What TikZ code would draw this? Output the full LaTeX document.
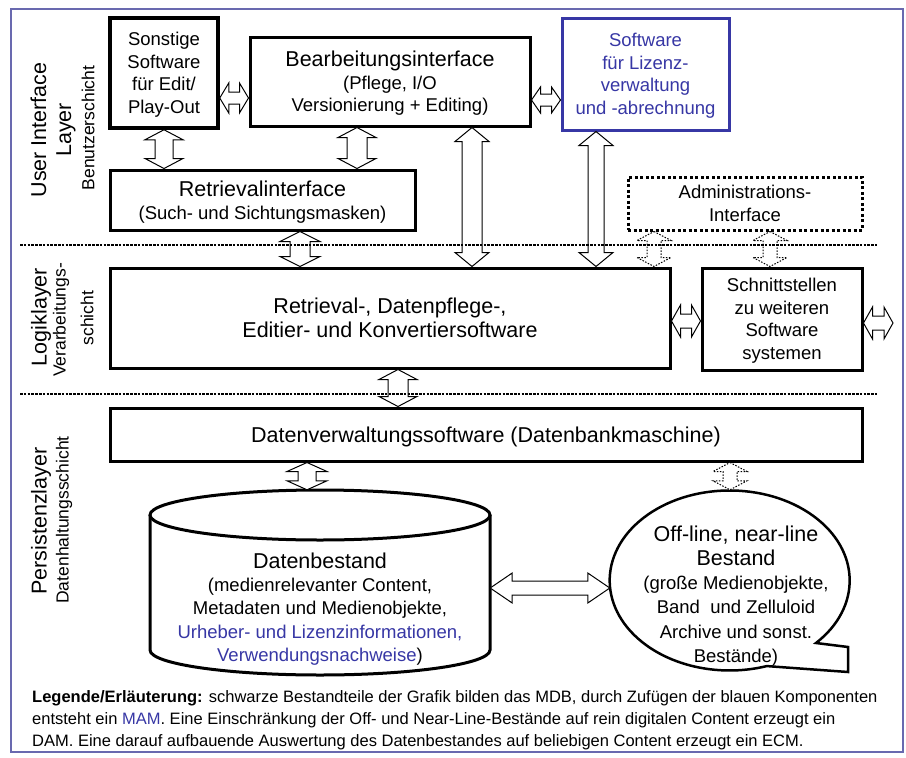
\documentclass[tikz,border=0pt]{standalone}
\usepackage{fontspec}
\setmainfont{Liberation Sans}
\usetikzlibrary{calc}
\definecolor{mblue}{RGB}{55,55,165}
\definecolor{framec}{RGB}{105,105,175}
\newcommand\fsT{\fontsize{21.5}{24}\selectfont}
\newcommand\fsS{\fontsize{18.5}{22.5}\selectfont}
\newcommand\fsSm{\fontsize{17.5}{21}\selectfont}
\newcommand\fsL{\fontsize{16.5}{22}\selectfont}
\newcommand\dblarr[6][]{%
  \coordinate (bs) at (#2);
  \coordinate (bt) at (#3);
  \coordinate (ba1) at ($(bs)!#4!(bt)$);
  \coordinate (ba2) at ($(bt)!#4!(bs)$);
  \draw[arrline,#1] (bs) -- ($(ba1)!#5!90:(bt)$) -- ($(ba1)!#6!90:(bt)$)
    -- ($(ba2)!#6!-90:(bs)$) -- ($(ba2)!#5!-90:(bs)$) -- (bt)
    -- ($(ba2)!#5!90:(bs)$) -- ($(ba2)!#6!90:(bs)$)
    -- ($(ba1)!#6!-90:(bt)$) -- ($(ba1)!#5!-90:(bt)$) -- cycle;
}
\tikzset{
  box/.style={draw=black, line width=3pt, fill=white, align=center, inner sep=0pt, text=black, text depth=-4pt},
  bluebox/.style={box, draw=mblue, text=mblue},
  dotbox/.style={box, dash pattern=on 3pt off 2.5pt},
  ghost/.style={draw=none, inner sep=0pt},
  lab/.style={inner sep=0pt, rotate=90, align=center},
  arrline/.style={draw=black, fill=white, line width=1pt, line join=miter},
  dotarr/.style={dash pattern=on 1.5pt off 1.5pt},
  sepline/.style={line width=2.5pt, dash pattern=on 2.5pt off 1.3pt},
  legend/.style={anchor=base west, inner sep=0pt, font=\fsL}
}
\begin{document}
\begin{tikzpicture}[x=1pt, y=-1pt]
\fill[white] (0,0) rectangle (906,758);
\useasboundingbox (0,0) rectangle (906,758);
\draw[framec, line width=1.5pt] (11,9) rectangle (903,752);

% layer labels
\node[lab, font=\fsT] (uil) at (53,130) {User Interface\\[1pt]Layer};
\node[lab, font=\fsSm] (uis) at (88,128) {Benutzerschicht};
\node[lab, font=\fsT] (lgl) at (41,317) {Logiklayer};
\node[lab, font=\fsSm] (lgs1) at (61,320) {Verarbeitungs-};
\node[lab, font=\fsSm] (lgs2) at (87,318) {schicht};
\node[lab, font=\fsT] (psl) at (41,521) {Persistenzlayer};
\node[lab, font=\fsSm] (pss) at (64,520) {Datenhaltungsschicht};

% user interface layer
\node[box, line width=3.5pt, font=\fsS, minimum width=108pt, minimum height=110pt] (son) at (164,73)
  {Sonstige\\Software\\für Edit/\\Play-Out};
\node[box, font=\fsS, minimum width=280pt, minimum height=89pt] (bearb) at (390,81.5)
  {{\fsT Bearbeitungsinterface}\\(Pflege, I/O\\Versionierung + Editing)};
\node[bluebox, font=\fsS, minimum width=167pt, minimum height=112pt] (liz) at (645.5,74)
  {Software\\für Lizenz-\\verwaltung\\und -abrechnung};
\node[box, font=\fsS, minimum width=305pt, minimum height=60pt] (ret) at (262.5,200)
  {{\fsT Retrievalinterface}\\(Such- und Sichtungsmasken)};
\node[dotbox, font=\fsS, minimum width=234pt, minimum height=53pt] (adm) at (745,203.5)
  {Administrations-\\Interface};

% logic layer
\node[box, font=\fsT, minimum width=560pt, minimum height=100pt] (logic) at (390,318)
  {Retrieval-, Datenpflege-,\\Editier- und Konvertiersoftware};
\node[box, font=\fsS, minimum width=160pt, minimum height=102pt] (schn) at (782,319)
  {Schnittstellen\\zu weiteren\\Software\\systemen};

% persistence layer
\node[box, font=\fsT, minimum width=752pt, minimum height=53pt] (dv) at (486,434.5)
  {Datenverwaltungssoftware (Datenbankmaschine)};

% cylinder
\draw[line width=3pt, fill=white] (150,515) -- (150,650)
  arc[start angle=180, end angle=0, x radius=170, y radius=25] -- (490,515);
\draw[line width=3pt, fill=white] (320,515) ellipse [x radius=170, y radius=25];
\node[ghost, minimum width=340pt, minimum height=185pt] (db) at (320,582.5) {};
\node[inner sep=0pt, align=center, font=\fontsize{18.5}{23.3}\selectfont] (dbt) at (320,609)
  {{\fsT Datenbestand}\\(medienrelevanter Content,\\Metadaten und Medienobjekte,\\
   \textcolor{mblue}{Urheber- und Lizenzinformationen,}\\
   \textcolor{mblue}{Verwendungsnachweise})};

% callout ellipse
\draw[line width=2.5pt, fill=white] (816,643)
  arc[start angle=44, end angle=-288, x radius=120, y radius=90]
  -- (848,672) -- (848,647) -- cycle;
\node[ghost, minimum width=240pt, minimum height=180pt] (off) at (730,580) {};
\node[inner sep=0pt, align=center, font=\fontsize{18.5}{24.2}\selectfont] (offt) at (736,596)
  {{\fsT Off-line, near-line}\\{\fsT Bestand}\\(große Medienobjekte,\\Band\ \ und Zelluloid\\Archive und sonst.\\Bestände)};

% connectors
\dblarr{son.south}{son.south |- ret.north}{10pt}{19pt}{9pt}
\dblarr{bearb.south -| 357,0}{ret.north -| 357,0}{10pt}{19pt}{10pt}
\dblarr{ret.south -| 300,0}{logic.north -| 300,0}{10pt}{20pt}{10pt}
\dblarr{bearb.south -| 472,0}{logic.north -| 472,0}{14pt}{17pt}{10pt}
\dblarr{liz.south -| 596,0}{logic.north -| 596,0}{14pt}{17pt}{8pt}
\dblarr[dotarr]{adm.south -| 654,0}{logic.north -| 654,0}{9pt}{17pt}{7pt}
\dblarr[dotarr]{adm.south -| 770,0}{schn.north -| 770,0}{9pt}{17pt}{7pt}
\dblarr{son.east |- 0,98}{bearb.west |- 0,98}{9pt}{15pt}{6pt}
\dblarr{bearb.east |- 0,100}{liz.west |- 0,100}{9pt}{13pt}{6pt}
\dblarr{logic.east |- 0,321}{schn.west |- 0,321}{9pt}{16pt}{7pt}
\coordinate (ext) at (893,323);
\dblarr{schn.east |- 0,323}{ext}{9pt}{16pt}{7pt}
\dblarr{logic.south -| 398,0}{dv.north -| 398,0}{10pt}{19pt}{10pt}
\dblarr{dv.south -| 307,0}{db.north -| 307,0}{9pt}{20pt}{9pt}
\dblarr[dotarr]{dv.south -| 730,0}{off.north -| 730,0}{9pt}{17pt}{7pt}
\dblarr{db.east |- 0,588}{off.west |- 0,588}{22pt}{15pt}{7pt}

% layer separators
\draw[sepline] (20,245) -- (877,245);
\draw[sepline] (20,394) -- (877,394);

% legend
\node[legend] (lg1) at (32,702) {\textbf{Legende/Erläuterung:} schwarze Bestandteile der Grafik bilden das MDB, durch Zufügen der blauen Komponenten};
\node[legend] (lg2) at (32,724) {entsteht ein \textcolor{mblue}{MAM}. Eine Einschränkung der Off- und Near-Line-Bestände auf rein digitalen Content erzeugt ein};
\node[legend] (lg3) at (32,746) {DAM. Eine darauf aufbauende Auswertung des Datenbestandes auf beliebigen Content erzeugt ein ECM.};
\end{tikzpicture}
\end{document}
